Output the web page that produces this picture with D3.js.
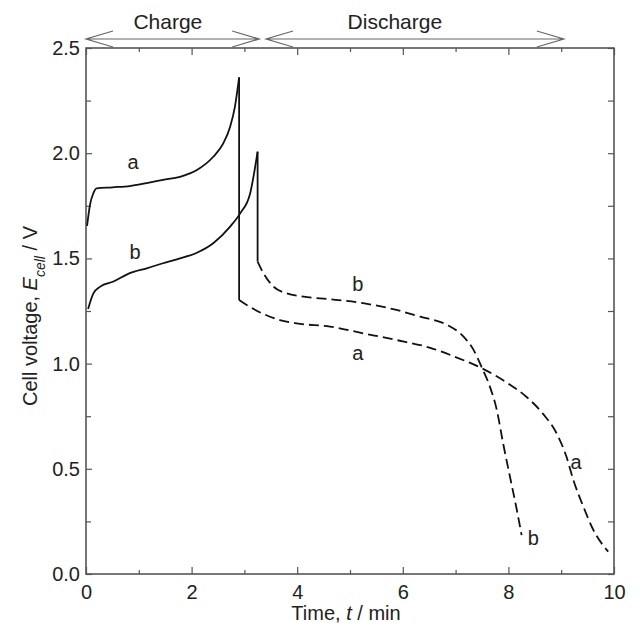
<!DOCTYPE html>
<html>
<head>
<meta charset="utf-8">
<script src="https://cdn.jsdelivr.net/npm/d3@7"></script>
<style>
  body { margin: 0; background: #fff; }
  text { font-family: "Liberation Sans", Arial, sans-serif; fill: #222; }
</style>
</head>
<body>
<div id="chart"></div>
<script>
//// data (time in min, voltage in V)
var chargeA_t = [0.02, 0.08, 0.14, 0.2, 0.5, 0.83, 1.15, 1.46, 1.78, 2.1, 2.41, 2.6, 2.73, 2.82, 2.9];
var chargeA_v = [1.655, 1.76, 1.81, 1.833, 1.838, 1.844, 1.858, 1.873, 1.888, 1.92, 1.983, 2.047, 2.126, 2.22, 2.36];
var dischargeA_t = [2.9, 3.1, 3.36, 3.67, 3.99, 4.62, 5.25, 5.88, 6.52, 6.96, 7.52, 7.97, 8.35, 8.66, 8.91, 9.1, 9.23, 9.42, 9.61, 9.89];
var dischargeA_v = [1.302, 1.27, 1.236, 1.207, 1.191, 1.176, 1.144, 1.112, 1.075, 1.035, 0.975, 0.91, 0.84, 0.76, 0.67, 0.557, 0.447, 0.32, 0.209, 0.106];

var chargeB_t = [0.04, 0.14, 0.27, 0.52, 0.83, 1.15, 1.46, 1.78, 2.1, 2.41, 2.73, 2.92, 3.11, 3.25];
var chargeB_v = [1.26, 1.334, 1.366, 1.39, 1.43, 1.453, 1.477, 1.5, 1.527, 1.572, 1.651, 1.714, 1.81, 2.007];
var dischargeB_t = [3.25, 3.36, 3.55, 3.8, 4.12, 4.62, 5.25, 5.88, 6.33, 6.83, 7.15, 7.34, 7.49, 7.65, 7.78, 7.9, 8.03, 8.16, 8.25];
var dischargeB_v = [1.485, 1.43, 1.366, 1.334, 1.318, 1.306, 1.287, 1.255, 1.223, 1.185, 1.128, 1.065, 0.985, 0.89, 0.78, 0.621, 0.462, 0.304, 0.185];

// curve labels: [text, t, V]
var curveLabels = [["a", 0.89, 1.96], ["b", 0.93, 1.53], ["b", 5.15, 1.38], ["a", 5.15, 1.05], ["a", 9.28, 0.53], ["b", 8.47, 0.17]];

// phase arrows: [label, t start, t end, label t]
var phases = [["Charge", 0.0, 3.28, 1.55], ["Discharge", 3.41, 9.05, 5.85]];

var xMajor = [0, 2, 4, 6, 8, 10];
var xMinor = [1, 3, 5, 7, 9];
var yMajor = [0, 0.5, 1.0, 1.5, 2.0, 2.5];
var yMinor = [0.25, 0.75, 1.25, 1.75, 2.25];

//// chart
var margin = {top: 48, right: 26, bottom: 58, left: 86},
    width = 640 - margin.left - margin.right,
    height = 632 - margin.top - margin.bottom;

var svgRoot = d3.select("#chart").append("svg")
    .attr("width", 640)
    .attr("height", 632);

var svg = svgRoot.append("g")
    .attr("transform", "translate(" + margin.left + "," + margin.top + ")");

var x = d3.scaleLinear().domain([0, 10]).range([0, width]);
var y = d3.scaleLinear().domain([0, 2.5]).range([height, 0]);

//// axes (ticks inward)
function styleAxis(g) {
  g.select(".domain").remove();
  g.selectAll("line").attr("stroke", "#555").attr("stroke-width", 1.2);
  g.selectAll("text").style("font-size", "20px").attr("fill", "#222");
}

svg.append("g")
    .attr("transform", "translate(0," + height + ")")
    .call(d3.axisBottom(x).tickValues(xMajor).tickSize(-7).tickPadding(11).tickFormat(d3.format("d")))
    .call(styleAxis);
svg.append("g")
    .attr("transform", "translate(0," + height + ")")
    .call(d3.axisBottom(x).tickValues(xMinor).tickSize(-4).tickFormat(""))
    .call(styleAxis);
svg.append("g")
    .call(d3.axisTop(x).tickValues(xMajor).tickSize(-7).tickFormat(""))
    .call(styleAxis);
svg.append("g")
    .call(d3.axisTop(x).tickValues(xMinor).tickSize(-4).tickFormat(""))
    .call(styleAxis);

svg.append("g")
    .call(d3.axisLeft(y).tickValues(yMajor).tickSize(-6).tickPadding(6).tickFormat(d3.format(".1f")))
    .call(styleAxis);
svg.append("g")
    .call(d3.axisLeft(y).tickValues(yMinor).tickSize(-5).tickFormat(""))
    .call(styleAxis);
svg.append("g")
    .attr("transform", "translate(" + width + ",0)")
    .call(d3.axisRight(y).tickValues(yMajor.concat(yMinor)).tickSize(-6).tickFormat(""))
    .call(styleAxis);

// frame
svg.append("rect")
    .attr("width", width)
    .attr("height", height)
    .attr("fill", "none")
    .attr("stroke", "#555")
    .attr("stroke-width", 1.6);

//// curves
function pts(ts, vs) { return ts.map(function(t, i) { return [t, vs[i]]; }); }

var line = d3.line()
    .x(function(d) { return x(d[0]); })
    .y(function(d) { return y(d[1]); })
    .curve(d3.curveMonotoneX);
var straight = d3.line()
    .x(function(d) { return x(d[0]); })
    .y(function(d) { return y(d[1]); });

var curves = [
  {pts: pts(chargeA_t, chargeA_v), dash: null},
  {pts: pts(chargeB_t, chargeB_v), dash: null},
  {pts: pts(dischargeA_t, dischargeA_v), dash: "10,5"},
  {pts: pts(dischargeB_t, dischargeB_v), dash: "10,5"}
];

svg.selectAll(".curve")
    .data(curves)
  .enter().append("path")
    .attr("class", "curve")
    .attr("d", function(d) { return line(d.pts); })
    .attr("fill", "none")
    .attr("stroke", "#111")
    .attr("stroke-width", 1.8)
    .attr("stroke-dasharray", function(d) { return d.dash; });

// vertical drop at end of charge
var drops = [
  [[chargeA_t[chargeA_t.length - 1], chargeA_v[chargeA_v.length - 1]], [dischargeA_t[0], dischargeA_v[0]]],
  [[chargeB_t[chargeB_t.length - 1], chargeB_v[chargeB_v.length - 1]], [dischargeB_t[0], dischargeB_v[0]]]
];
svg.selectAll(".drop")
    .data(drops)
  .enter().append("path")
    .attr("class", "drop")
    .attr("d", straight)
    .attr("fill", "none")
    .attr("stroke", "#111")
    .attr("stroke-width", 1.8);

// curve labels
svg.selectAll(".clabel")
    .data(curveLabels)
  .enter().append("text")
    .attr("class", "clabel")
    .attr("x", function(d) { return x(d[1]); })
    .attr("y", function(d) { return y(d[2]); })
    .attr("dy", "0.35em")
    .attr("text-anchor", "middle")
    .style("font-size", "20px")
    .text(function(d) { return d[0]; });

//// phase arrows above the plot
var arrowY = -9, headLen = 27, headHalf = 8;
var arrows = svg.selectAll(".phase")
    .data(phases)
  .enter().append("g")
    .attr("class", "phase");

arrows.append("path")
    .attr("d", function(d) {
      var x0 = x(d[1]), x1 = x(d[2]);
      return "M" + x0 + "," + arrowY + "L" + x1 + "," + arrowY +
        "M" + (x0 + headLen) + "," + (arrowY - headHalf) + "L" + x0 + "," + arrowY + "L" + (x0 + headLen) + "," + (arrowY + headHalf) +
        "M" + (x1 - headLen) + "," + (arrowY - headHalf) + "L" + x1 + "," + arrowY + "L" + (x1 - headLen) + "," + (arrowY + headHalf);
    })
    .attr("fill", "none")
    .attr("stroke", "#666")
    .attr("stroke-width", 1.2);

arrows.append("text")
    .attr("x", function(d) { return x(d[3]); })
    .attr("y", -19)
    .attr("text-anchor", "middle")
    .style("font-size", "21px")
    .text(function(d) { return d[0]; });

//// axis titles
svgRoot.append("text")
    .attr("x", 346)
    .attr("y", 620)
    .attr("text-anchor", "middle")
    .style("font-size", "20px")
    .html('Time, <tspan font-style="italic">t</tspan> / min');

var yt = svgRoot.append("text")
    .attr("transform", "translate(37,316) rotate(-90)")
    .attr("text-anchor", "middle")
    .style("font-size", "20px");
yt.append("tspan").text("Cell voltage, ");
yt.append("tspan").attr("font-style", "italic").text("E");
yt.append("tspan").attr("font-style", "italic").attr("baseline-shift", "sub").style("font-size", "14px").text("cell");
yt.append("tspan").text(" / V");
</script>
</body>
</html>
